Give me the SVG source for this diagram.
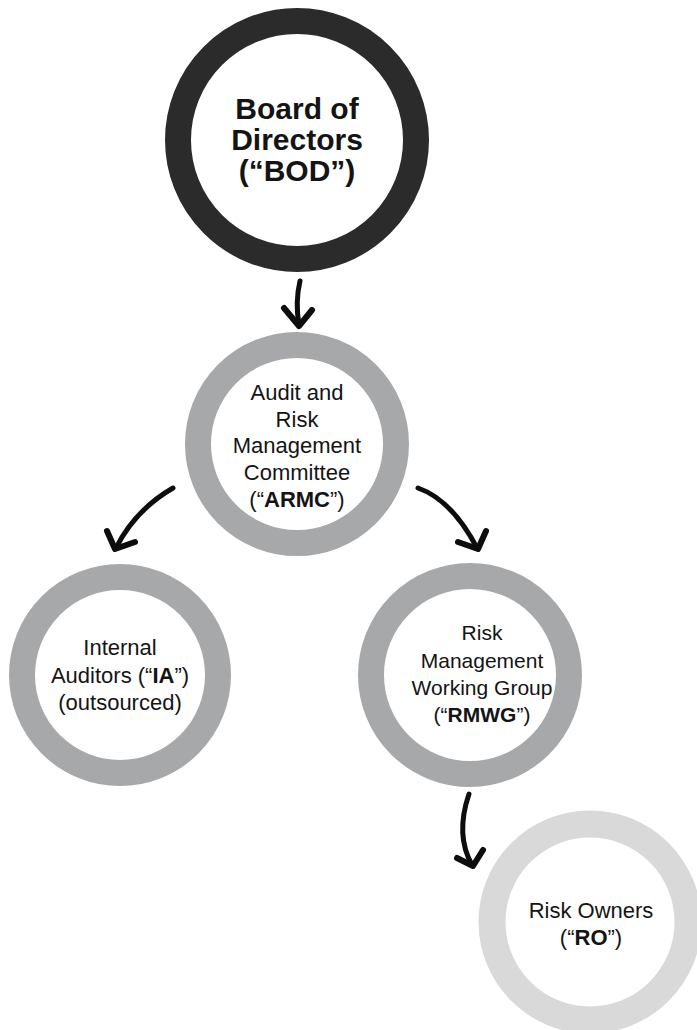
<svg xmlns="http://www.w3.org/2000/svg" width="697" height="1030" viewBox="0 0 697 1030">
  <style>
    .ring { fill: #ffffff; }
    .dark { stroke: #2b2b2b; stroke-width: 26; }
    .mid { stroke: #a7a8aa; stroke-width: 26; }
    .light { stroke: #d9d9d9; stroke-width: 27; }
    .lbl { font-family: "Liberation Sans", Arial, Helvetica, sans-serif; font-size: 22px; fill: #141414; text-anchor: middle; }
    .sm { font-size: 21px; }
    .big { font-size: 30px; font-weight: bold; }
    .b { font-weight: bold; }
    .shaft { fill: none; stroke: #0d0d0d; stroke-width: 5; stroke-linecap: round; stroke-linejoin: round; }
    .head { fill: none; stroke: #0d0d0d; stroke-width: 6; stroke-linecap: round; stroke-linejoin: round; }
  </style>

  <!-- connectors: hand-drawn curved arrows -->
  <g id="connectors">
    <g id="bod-armc">
      <path class="shaft" d="M300,281 Q295,302 299,325"/>
      <path class="head" d="M284,308 L299,326 L312,310"/>
    </g>
    <g id="armc-ia">
      <path class="shaft" d="M173,488 Q135,510 116,548"/>
      <path class="head" d="M107,531 L115,549 L135,542"/>
    </g>
    <g id="armc-rmwg">
      <path class="shaft" d="M418,488 Q452,500 477,548"/>
      <path class="head" d="M458,542 L478,549 L486,531"/>
    </g>
    <g id="rmwg-ro">
      <path class="shaft" d="M469,794 Q455,835 472,865"/>
      <path class="head" d="M457,858 L473,866 L483,850"/>
    </g>
  </g>

  <!-- Board of Directors -->
  <g id="node-bod">
    <circle class="ring dark" cx="297" cy="140" r="119"/>
    <text class="lbl big" x="297" y="119">Board of</text>
    <text class="lbl big" x="297" y="150">Directors</text>
    <text class="lbl big" x="297" y="181">(“BOD”)</text>
  </g>

  <!-- Audit and Risk Management Committee -->
  <g id="node-armc">
    <circle class="ring mid" cx="297" cy="444" r="99"/>
    <text class="lbl" x="297" y="400">Audit and</text>
    <text class="lbl" x="297" y="427">Risk</text>
    <text class="lbl" x="297" y="453">Management</text>
    <text class="lbl" x="297" y="480">Committee</text>
    <text class="lbl" x="297" y="507">(“<tspan class="b">ARMC</tspan>”)</text>
  </g>

  <!-- Internal Auditors -->
  <g id="node-ia">
    <circle class="ring mid" cx="120" cy="675" r="98"/>
    <text class="lbl" x="120" y="655">Internal</text>
    <text class="lbl" x="120" y="683">Auditors (“<tspan class="b">IA</tspan>”)</text>
    <text class="lbl" x="120" y="710">(outsourced)</text>
  </g>

  <!-- Risk Management Working Group -->
  <g id="node-rmwg">
    <circle class="ring mid" cx="470" cy="675" r="99"/>
    <text class="lbl sm" x="482" y="640">Risk</text>
    <text class="lbl sm" x="482" y="668">Management</text>
    <text class="lbl sm" x="482" y="695">Working Group</text>
    <text class="lbl sm" x="482" y="722">(“<tspan class="b">RMWG</tspan>”)</text>
  </g>

  <!-- Risk Owners -->
  <g id="node-ro">
    <circle class="ring light" cx="590" cy="922" r="98"/>
    <text class="lbl" x="591" y="918">Risk Owners</text>
    <text class="lbl" x="591" y="945">(“<tspan class="b">RO</tspan>”)</text>
  </g>
</svg>
